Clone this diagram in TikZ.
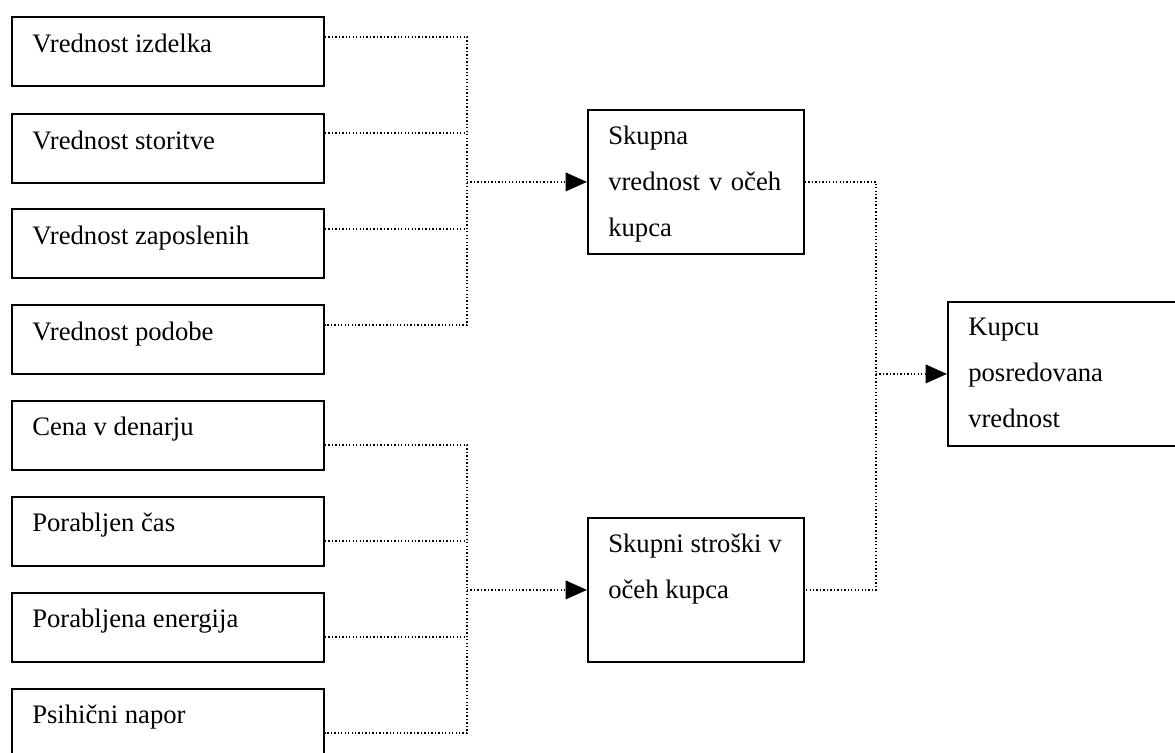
\documentclass[tikz,border=0pt]{standalone}
\usepackage{fontspec}
\setmainfont{Liberation Serif}
\usetikzlibrary{arrows.meta}

% one unit = one pixel of the 1175 x 753 canvas, y grows downwards
\tikzset{
  x=0.75pt, y=-0.75pt,
  box/.style={draw, line width=1.4pt, rectangle, inner sep=0pt, anchor=north west},
  smallbox/.style={box, minimum width=234pt, minimum height=51.75pt},
  bigbox/.style={box, minimum width=162pt, minimum height=108pt},
  lbl/.style={inner sep=0pt, anchor=base west, font=\fontsize{20pt}{34.5pt}\selectfont},
  conn/.style={line width=1pt, dash pattern=on 1pt off 1.6pt},
  arr/.style={-{Triangle[length=16pt,width=14pt]}},
}
\newcommand\boxline[3]{\node[lbl] at ([shift={(21,#2)}]#1.north west) {#3};}

\begin{document}
\begin{tikzpicture}
\useasboundingbox (0,0) rectangle (1175,753);
\clip (0,0) rectangle (1175,753);

% value components
\node[smallbox] (v1) at (11,16)  {};
\node[smallbox] (v2) at (11,113) {};
\node[smallbox] (v3) at (11,208) {};
\node[smallbox] (v4) at (11,304) {};
\boxline{v1}{36}{Vrednost izdelka}
\boxline{v2}{36}{Vrednost storitve}
\boxline{v3}{36}{Vrednost zaposlenih}
\boxline{v4}{36}{Vrednost podobe}

% cost components
\node[smallbox] (c1) at (11,400) {};
\node[smallbox] (c2) at (11,496) {};
\node[smallbox] (c3) at (11,592) {};
\node[smallbox] (c4) at (11,688) {};
\boxline{c1}{35}{Cena v denarju}
\boxline{c2}{35}{Porabljen čas}
\boxline{c3}{35}{Porabljena energija}
\boxline{c4}{35}{Psihični napor}

% totals
\node[bigbox] (s1) at (587,109) {};
\boxline{s1}{35}{Skupna}
\boxline{s1}{81}{\makebox[129.75pt][s]{vrednost v očeh}}
\boxline{s1}{127}{kupca}

\node[bigbox] (s2) at (587,517) {};
\boxline{s2}{35}{Skupni stroški v}
\boxline{s2}{81}{očeh kupca}

% delivered value
\node[bigbox, minimum width=180pt] (k) at (947,301) {};
\boxline{k}{34}{Kupcu}
\boxline{k}{80}{posredovana}
\boxline{k}{126}{vrednost}

% bus positions
\coordinate (xA) at (467,0);
\coordinate (xC) at (876,0);

% ports on the right side of the small boxes
\coordinate (o1) at ([yshift=-15.75pt]v1.north east);
\coordinate (o2) at ([yshift=-15pt]v2.north east);
\coordinate (o3) at ([yshift=-15.75pt]v3.north east);
\coordinate (o4) at ([yshift=-15.75pt]v4.north east);
\coordinate (p1) at ([yshift=-33.75pt]c1.north east);
\coordinate (p2) at ([yshift=-33.75pt]c2.north east);
\coordinate (p3) at ([yshift=-33.75pt]c3.north east);
\coordinate (p4) at ([yshift=-33.75pt]c4.north east);

% value bus
\draw[conn] (o1) -- (o1 -| xA) -- (o4 -| xA) -- (o4);
\draw[conn] (o2) -- (o2 -| xA);
\draw[conn] (o3) -- (o3 -| xA);
\draw[conn, arr] (s1.west -| xA) -- (s1.west);

% cost bus
\draw[conn] (p1) -- (p1 -| xA) -- (p4 -| xA) -- (p4);
\draw[conn] (p2) -- (p2 -| xA);
\draw[conn] (p3) -- (p3 -| xA);
\draw[conn, arr] (s2.west -| xA) -- (s2.west);

% totals to delivered value
\draw[conn] (s1.east) -- (s1.east -| xC) -- (s2.east -| xC) -- (s2.east);
\draw[conn, arr] (k.west -| xC) -- (k.west);
\end{tikzpicture}
\end{document}
